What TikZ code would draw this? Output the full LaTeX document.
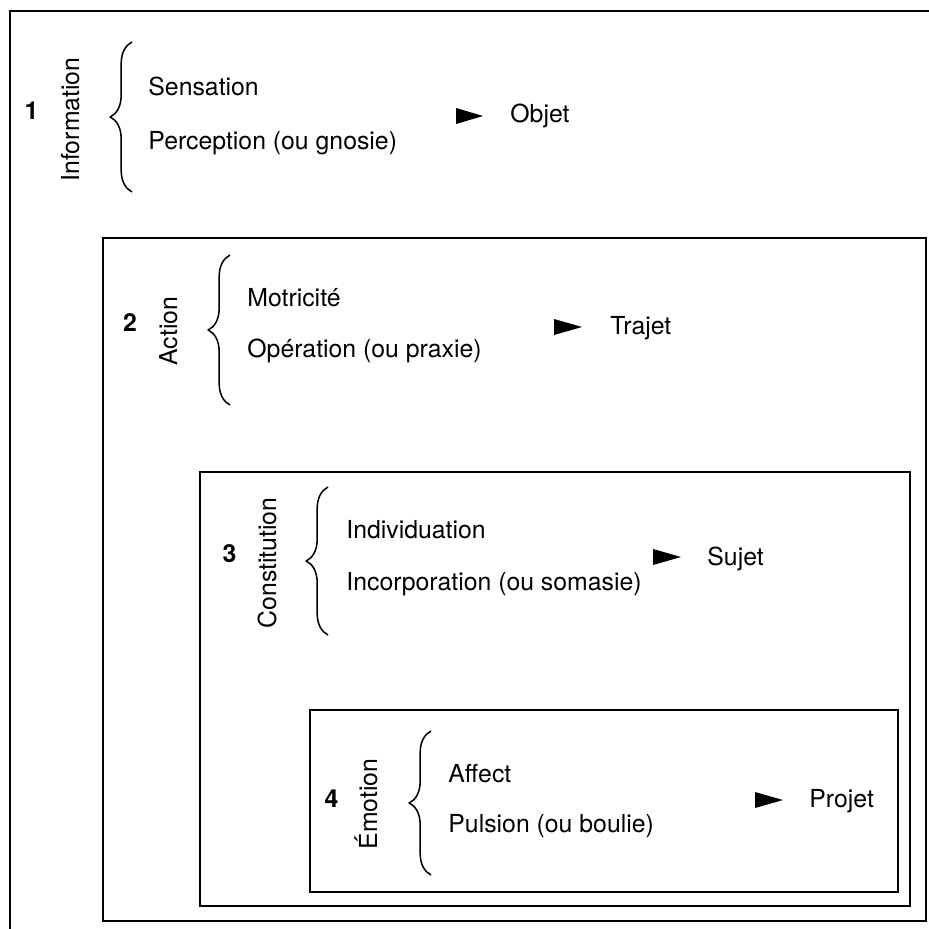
\documentclass[tikz,border=0pt]{standalone}
\usepackage{fontspec}
\setmainfont{TeX Gyre Heros}
\usetikzlibrary{decorations.pathreplacing}

\begin{document}
\begin{tikzpicture}[x=0.1615mm, y=-0.1615mm,
    box/.style={line width=1.1pt},
    txt/.style={inner sep=0pt, anchor=base west, font=\fontsize{11.4}{13.7}\selectfont},
    num/.style={txt, anchor=base, font=\fontsize{11.4}{13.7}\selectfont\bfseries},
    side/.style={txt, anchor=base, rotate=90},
    curly/.style={decorate, decoration={brace, amplitude=3.5mm}, line width=0.7pt},
    tip/.style={fill=black}]
      \useasboundingbox (0,0) rectangle (929,929);
      % frames
      \draw[box] (929,11) -- (10,11) -- (10,929);
      \draw[box] (103,238) rectangle (926,921);
      \draw[box] (200,472) rectangle (910,906);
      \draw[box] (310,710) rectangle (898,892);
      % 1
      \node[num] (n1) at (31.5,120) {1};
      \node[side] (info) at (79,119.5) {Information};
      \draw[curly] (132,192) -- (132,42);
      \node[txt] (sens) at (148,96) {Sensation};
      \node[txt] (perc) at (148,150) {Perception (ou gnosie)};
      \fill[tip] (456,108) -- (483,116) -- (456,124) -- cycle;
      \node[txt] (objet) at (510,123) {Objet};
      % 2
      \node[num] (n2) at (130,332) {2};
      \node[side] (action) at (177,331) {Action};
      \draw[curly] (230,405) -- (230,255);
      \node[txt] (motr) at (247,307) {Motricité};
      \node[txt] (oper) at (247,358) {Opération (ou praxie)};
      \fill[tip] (554,319) -- (582,327) -- (554,335) -- cycle;
      \node[txt] (trajet) at (610,335) {Trajet};
      % 3
      \node[num] (n3) at (229.5,562) {3};
      \node[side] (const) at (276,563) {Constitution};
      \draw[curly] (328,635) -- (328,487);
      \node[txt] (indiv) at (346,538) {Individuation};
      \node[txt] (incorp) at (346,590) {Incorporation (ou somasie)};
      \fill[tip] (653,549) -- (681,557) -- (653,565) -- cycle;
      \node[txt] (sujet) at (707,565) {Sujet};
      % 4
      \node[num] (n4) at (331.5,807) {4};
      \node[side] (emot) at (377,804) {Émotion};
      \draw[curly] (431,875) -- (431,731);
      \node[txt] (affect) at (448,782) {Affect};
      \node[txt] (puls) at (448,832) {Pulsion (ou boulie)};
      \fill[tip] (755,792) -- (783,800) -- (755,808) -- cycle;
      \node[txt] (projet) at (809,807) {Projet};
\end{tikzpicture}
\end{document}
